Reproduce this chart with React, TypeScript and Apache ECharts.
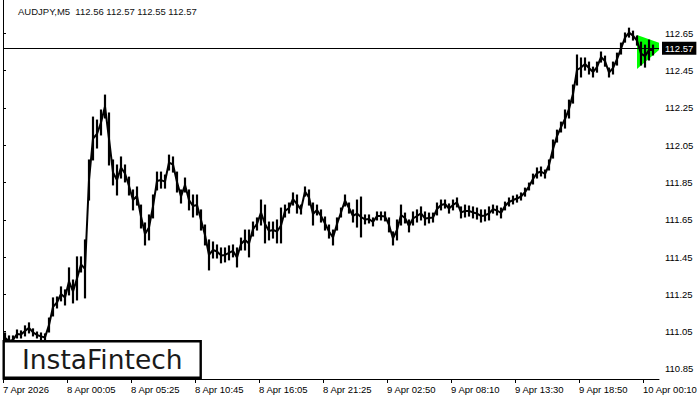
import React, { useEffect, useRef } from "react";
import * as echarts from "echarts";

const symbolTitle = "AUDJPY,M5  112.56 112.57 112.55 112.57";
const logoText = "InstaFintech";

// x axis: one unit per M5 bar; labels every 64 bars
const xTickIndex = [0, 64, 128, 192, 256, 320, 384, 448, 512, 576, 640];
const xTickLabels = [
  "7 Apr 2026",
  "8 Apr 00:05",
  "8 Apr 05:25",
  "8 Apr 10:45",
  "8 Apr 16:05",
  "8 Apr 21:25",
  "9 Apr 02:50",
  "9 Apr 08:10",
  "9 Apr 13:30",
  "9 Apr 18:50",
  "10 Apr 00:10",
];
const yTickValues = [110.85, 111.05, 111.25, 111.45, 111.65, 111.85, 112.05, 112.25, 112.45, 112.65];
const yMin = 110.796;
const yMax = 112.829;
const barCount = 656;

// price ranges read in groups of 4 bars (20 minutes)
const barStep = 4;
const groupHigh = [
  111.043, 111.027, 111.027, 111.059, 111.054, 111.081, 111.097, 111.065, 111.048, 111.043,
  111.038, 111.123, 111.231, 111.236, 111.29, 111.274, 111.392, 111.327, 111.451, 111.451,
  111.542, 111.971, 112.201, 112.185, 112.239, 112.319, 112.223, 111.971, 111.944, 111.987,
  111.944, 111.879, 111.81, 111.826, 111.729, 111.633, 111.676, 111.783, 111.906, 111.906,
  111.89, 111.997, 111.987, 111.906, 111.81, 111.874, 111.81, 111.783, 111.783, 111.703,
  111.622, 111.542, 111.531, 111.515, 111.499, 111.499, 111.51, 111.515, 111.499, 111.552,
  111.595, 111.595, 111.638, 111.66, 111.756, 111.729, 111.638, 111.638, 111.649, 111.713,
  111.729, 111.74, 111.794, 111.783, 111.729, 111.826, 111.81, 111.74, 111.729, 111.703,
  111.665, 111.622, 111.595, 111.66, 111.713, 111.783, 111.74, 111.703, 111.756, 111.772,
  111.676, 111.676, 111.66, 111.692, 111.692, 111.692, 111.66, 111.585, 111.649, 111.729,
  111.686, 111.649, 111.692, 111.703, 111.719, 111.692, 111.686, 111.686, 111.74, 111.756,
  111.756, 111.735, 111.756, 111.767, 111.719, 111.729, 111.724, 111.719, 111.713, 111.703,
  111.703, 111.719, 111.729, 111.724, 111.713, 111.745, 111.767, 111.777, 111.783, 111.794,
  111.82, 111.847, 111.895, 111.928, 111.933, 111.917, 111.971, 112.078, 112.131, 112.174,
  112.239, 112.292, 112.373, 112.534, 112.518, 112.518, 112.496, 112.469, 112.496, 112.55,
  112.528, 112.464, 112.496, 112.544, 112.598, 112.652, 112.678, 112.662, 112.636, 112.603,
  112.587, 112.614, 112.587,
];
const groupLow = [
  110.99, 110.973, 110.984, 111.016, 111.016, 111.027, 111.043, 111.027, 111.016, 111.006,
  111.0, 111.048, 111.134, 111.177, 111.215, 111.193, 111.247, 111.204, 111.22, 111.37,
  111.231, 111.756, 111.971, 112.035, 112.105, 112.196, 111.944, 111.837, 111.783, 111.874,
  111.853, 111.783, 111.703, 111.729, 111.606, 111.515, 111.542, 111.66, 111.81, 111.82,
  111.82, 111.917, 111.906, 111.799, 111.74, 111.799, 111.703, 111.665, 111.676, 111.595,
  111.515, 111.381, 111.445, 111.445, 111.419, 111.424, 111.435, 111.451, 111.397, 111.488,
  111.488, 111.451, 111.563, 111.595, 111.622, 111.526, 111.542, 111.552, 111.526, 111.526,
  111.665, 111.686, 111.729, 111.686, 111.681, 111.777, 111.729, 111.622, 111.676, 111.638,
  111.595, 111.552, 111.515, 111.595, 111.665, 111.724, 111.686, 111.638, 111.611, 111.558,
  111.628, 111.633, 111.617, 111.649, 111.649, 111.644, 111.585, 111.515, 111.542, 111.622,
  111.633, 111.585, 111.622, 111.638, 111.649, 111.622, 111.633, 111.638, 111.676, 111.703,
  111.713, 111.686, 111.703, 111.719, 111.66, 111.665, 111.67, 111.66, 111.654, 111.638,
  111.644, 111.649, 111.686, 111.676, 111.66, 111.703, 111.724, 111.735, 111.745, 111.756,
  111.777, 111.81, 111.842, 111.874, 111.885, 111.874, 111.917, 111.981, 112.067, 112.121,
  112.142, 112.196, 112.276, 112.373, 112.416, 112.453, 112.432, 112.416, 112.442, 112.496,
  112.474, 112.416, 112.432, 112.48, 112.539, 112.603, 112.63, 112.614, 112.587, 112.48,
  112.469, 112.507, 112.534,
];
const lastPrice = 112.57;

// green pattern (symmetrical triangle) outline, clipped at the plot edge
const patternIndex = [634, 656, 656, 634];
const patternPrice = [112.641, 112.6, 112.561, 112.459];

export default function App() {
  const ref = useRef<HTMLDivElement>(null);

  useEffect(() => {
    if (!ref.current) return;
    const chart = echarts.init(ref.current, null, { renderer: "svg" });
    const font = '"Liberation Sans", Arial, sans-serif';
    const bars = groupHigh.map((h, k) => [k * barStep + barStep / 2, groupLow[k], h]);
    const mids = groupHigh.map((h, k) => [k * barStep + barStep / 2, (h + groupLow[k]) / 2]);

    chart.setOption({
      animation: false,
      backgroundColor: "#ffffff",
      title: {
        text: symbolTitle,
        left: 18,
        top: 6,
        padding: 0,
        textStyle: { fontFamily: font, fontSize: 9.5, fontWeight: "normal", color: "#111" },
      },
      grid: { left: 3, right: 41, top: 0, bottom: 21, containLabel: false, outerBoundsMode: "none" },
      xAxis: {
        type: "value",
        min: 0,
        max: barCount,
        axisLine: { show: true, onZero: false, lineStyle: { color: "#000", width: 1 } },
        axisTick: { show: true, length: 4, customValues: xTickIndex, lineStyle: { color: "#000" } },
        axisLabel: {
          customValues: xTickIndex,
          formatter: (v: number) => {
            const k = xTickIndex.indexOf(Math.round(v));
            return k >= 0 ? xTickLabels[k] : "";
          },
          align: "left",
          margin: 5,
          color: "#000",
          fontFamily: font,
          fontSize: 9.5,
        },
        splitLine: { show: false },
      },
      yAxis: [
        {
          type: "value",
          position: "right",
          min: yMin,
          max: yMax,
          axisLine: { show: true, lineStyle: { color: "#000", width: 1 } },
          axisTick: { show: true, length: 3, customValues: yTickValues, lineStyle: { color: "#000" } },
          axisLabel: {
            customValues: yTickValues,
            formatter: (v: number) => v.toFixed(2),
            margin: 6,
            color: "#000",
            fontFamily: font,
            fontSize: 9.5,
          },
          splitLine: { show: false },
        },
        {
          type: "value",
          position: "left",
          min: yMin,
          max: yMax,
          axisLine: { show: true, lineStyle: { color: "#000", width: 1 } },
          axisTick: { show: false },
          axisLabel: { show: false },
          splitLine: { show: false },
        },
      ],
      series: [
        {
          type: "custom",
          z: 1,
          data: [[0]],
          renderItem: (_p: any, api: any) => ({
            type: "polygon",
            shape: { points: patternIndex.map((ix, k) => api.coord([ix, patternPrice[k]])) },
            style: { fill: "#00ff00" },
          }),
        },
        {
          type: "line",
          z: 2,
          data: mids,
          symbol: "none",
          lineStyle: { color: "#000", width: 2 },
        },
        {
          type: "custom",
          z: 3,
          data: bars,
          encode: { x: 0, y: [1, 2] },
          renderItem: (_p: any, api: any) => {
            const i = api.value(0);
            const a = api.coord([i, api.value(2)]);
            const b = api.coord([i, api.value(1)]);
            return {
              type: "line",
              shape: { x1: a[0], y1: a[1] - 0.5, x2: b[0], y2: b[1] + 0.5 },
              style: { stroke: "#000", lineWidth: 2.2 },
            };
          },
          markLine: {
            silent: true,
            symbol: ["none", "none"],
            lineStyle: { color: "#000", width: 1, type: "solid" },
            label: {
              show: true,
              position: "end",
              distance: 3,
              formatter: lastPrice.toFixed(2),
              color: "#fff",
              backgroundColor: "#000",
              padding: [2, 3, 1, 3],
              fontFamily: font,
              fontSize: 9.5,
            },
            data: [{ yAxis: lastPrice }],
          },
        },
      ],
      graphic: [
        {
          type: "rect",
          z: 100,
          shape: { x: 3.7, y: 341.2, width: 197, height: 36.6 },
          style: { fill: "#fff", stroke: "#000", lineWidth: 2.4 },
        },
        {
          type: "text",
          z: 101,
          x: 22,
          y: 359,
          style: {
            text: logoText,
            fontFamily: '"DejaVu Sans", sans-serif',
            fontSize: 26.5,
            fill: "#1a1a1a",
            align: "left",
            verticalAlign: "middle",
          },
        },
      ],
    });

    return () => chart.dispose();
  }, []);

  return (
    <div
      ref={ref}
      style={{ position: "absolute", left: 0, top: 0, width: 700, height: 400, background: "#fff" }}
    />
  );
}
